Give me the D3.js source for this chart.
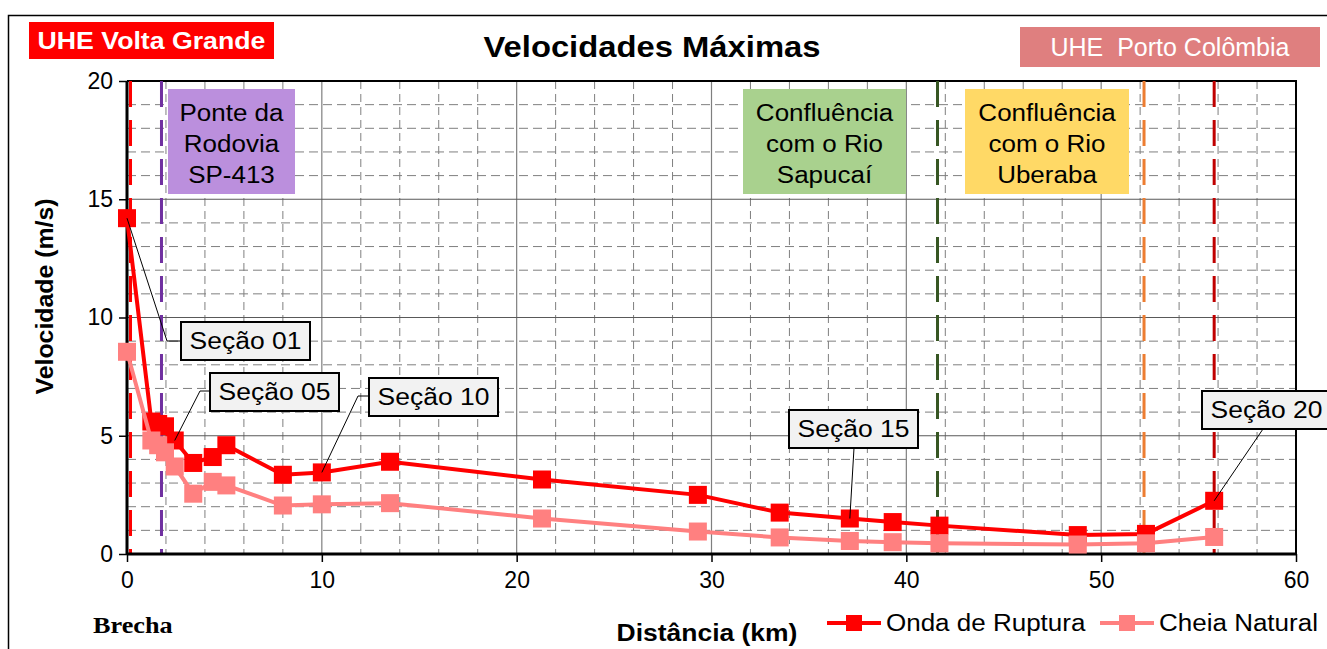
<!DOCTYPE html>
<html>
<head>
<meta charset="utf-8">
<script src="https://cdn.jsdelivr.net/npm/d3@7"></script>
<style>
  body { margin: 0; background: #fff; }
  svg { display: block; font-family: "Liberation Sans", Arial, sans-serif; }
</style>
</head>
<body>
<div id="chart"></div>
<script>
// ----- Data -----
const distancia = [0, 1.25, 1.6, 1.95, 2.45, 3.4, 4.4, 5.1, 8.0, 10.0, 13.5, 21.3, 29.3, 33.5, 37.1, 39.3, 41.7, 48.8, 52.3, 55.8];
const ondaRuptura = [14.2, 5.6, 5.5, 5.4, 4.8, 3.85, 4.1, 4.6, 3.35, 3.45, 3.9, 3.15, 2.5, 1.75, 1.5, 1.35, 1.2, 0.8, 0.85, 2.25];
const cheiaNatural = [8.55, 4.8, 4.6, 4.3, 3.7, 2.55, 3.05, 2.9, 2.05, 2.1, 2.15, 1.5, 0.95, 0.7, 0.55, 0.5, 0.45, 0.4, 0.45, 0.72];

const xTicks = [0, 10, 20, 30, 40, 50, 60];
const yTicks = [0, 5, 10, 15, 20];

// vertical markers (km)
const marcosKm = [0.18, 1.77, 41.6, 52.2, 55.8];
const marcosCor = ["#ff0000", "#7030a0", "#375623", "#ed7d31", "#c00000"];

// section callouts: label + point index
const secoes = [
  { label: "Seção 01", i: 0 },
  { label: "Seção 05", i: 4 },
  { label: "Seção 10", i: 9 },
  { label: "Seção 15", i: 14 },
  { label: "Seção 20", i: 19 }
];

// ----- Config -----
const width = 1327, height = 649;
const plot = { left: 127, right: 1296, top: 81, bottom: 554 };
const wide = 1.13; // source text is a bit wider than Arial

const svg = d3.select("#chart").append("svg")
  .attr("width", width).attr("height", height);

// stretch text horizontally to match the original rendering
function stretch(sel, f = wide) {
  sel.each(function() {
    const len = this.getComputedTextLength();
    d3.select(this).attr("textLength", len * f).attr("lengthAdjust", "spacingAndGlyphs");
  });
  return sel;
}

// outer frame
svg.append("rect")
  .attr("x", 8.5).attr("y", 15.5).attr("width", 1400).attr("height", 800)
  .attr("fill", "#fff").attr("stroke", "#000").attr("stroke-width", 1.5);

const x = d3.scaleLinear().domain([0, 60]).range([plot.left, plot.right]);
const y = d3.scaleLinear().domain([0, 20]).range([plot.bottom, plot.top]);

// ----- Grid -----
const grid = svg.append("g");
grid.selectAll(".vminor").data(d3.range(2, 60, 2).filter(d => d % 10 !== 0))
  .join("line")
  .attr("x1", d => x(d)).attr("x2", d => x(d))
  .attr("y1", plot.top).attr("y2", plot.bottom)
  .attr("stroke", "#7f7f7f").attr("stroke-width", 1).attr("stroke-dasharray", "8,5");
grid.selectAll(".hminor").data(d3.range(1, 20).filter(d => d % 5 !== 0))
  .join("line")
  .attr("y1", d => y(d)).attr("y2", d => y(d))
  .attr("x1", plot.left).attr("x2", plot.right)
  .attr("stroke", "#7f7f7f").attr("stroke-width", 1).attr("stroke-dasharray", "9,5");
grid.selectAll(".vmajor").data(xTicks.slice(1, -1))
  .join("line")
  .attr("x1", d => x(d)).attr("x2", d => x(d))
  .attr("y1", plot.top).attr("y2", plot.bottom)
  .attr("stroke", "#7f7f7f").attr("stroke-width", 1.2);
grid.selectAll(".hmajor").data(yTicks.slice(1, -1))
  .join("line")
  .attr("y1", d => y(d)).attr("y2", d => y(d))
  .attr("x1", plot.left).attr("x2", plot.right)
  .attr("stroke", "#595959").attr("stroke-width", 1.2);

// top / right border
svg.append("path")
  .attr("d", `M${plot.left},${plot.top}H${plot.right}V${plot.bottom}`)
  .attr("fill", "none").attr("stroke", "#000").attr("stroke-width", 2);

// ----- Info boxes -----
const caixas = [
  { linhas: ["Ponte da", "Rodovia", "SP-413"], x0: 168, x1: 295, cor: "#bb8fdd" },
  { linhas: ["Confluência", "com o Rio", "Sapucaí"], x0: 743, x1: 906, cor: "#a9d18e" },
  { linhas: ["Confluência", "com o Rio", "Uberaba"], x0: 965, x1: 1129, cor: "#ffd966" }
];
caixas.forEach(c => {
  const g = svg.append("g");
  g.append("rect").attr("x", c.x0).attr("y", 89).attr("width", c.x1 - c.x0).attr("height", 105)
    .attr("fill", c.cor);
  g.selectAll("text").data(c.linhas).join("text")
    .attr("x", (c.x0 + c.x1) / 2).attr("y", (d, i) => 121 + i * 31)
    .attr("text-anchor", "middle").attr("font-size", 23).attr("fill", "#000")
    .text(d => d)
    .call(stretch);
});

// ----- Vertical markers -----
svg.selectAll(".marco").data(marcosKm).join("line")
  .attr("x1", d => x(d)).attr("x2", d => x(d))
  .attr("y1", plot.top).attr("y2", plot.bottom)
  .attr("stroke", (d, i) => marcosCor[i]).attr("stroke-width", 3)
  .attr("stroke-dasharray", "26,13");

// ----- Axes -----
const yAxis = svg.append("g").attr("transform", `translate(${plot.left},0)`)
  .call(d3.axisLeft(y).tickValues(yTicks).tickSize(8).tickPadding(6));
const xAxis = svg.append("g").attr("transform", `translate(0,${plot.bottom})`)
  .call(d3.axisBottom(x).tickValues(xTicks).tickSize(8).tickPadding(10));
[yAxis, xAxis].forEach(a => {
  a.select(".domain").attr("stroke", "#000").attr("stroke-width", 3);
  a.selectAll(".tick line").attr("stroke", "#000").attr("stroke-width", 1.5);
  a.selectAll(".tick text").attr("font-size", 23).attr("fill", "#000")
    .attr("font-family", "Liberation Sans, Arial, sans-serif");
});
yAxis.select(".domain").attr("d", `M0,${plot.top}V${plot.bottom}`);
xAxis.select(".domain").attr("d", `M${plot.left},0H${plot.right}`);

// ----- Series -----
const series = [
  { nome: "Onda de Ruptura", v: ondaRuptura, cor: "#ff0000" },
  { nome: "Cheia Natural", v: cheiaNatural, cor: "#ff8080" }
];
const line = d3.line().x(d => x(d[0])).y(d => y(d[1]));
const ms = 18;
series.forEach(s => {
  const pts = distancia.map((d, i) => [d, s.v[i]]);
  svg.append("path").datum(pts)
    .attr("d", line).attr("fill", "none")
    .attr("stroke", s.cor).attr("stroke-width", 4);
  svg.append("g").selectAll("rect").data(pts).join("rect")
    .attr("x", d => x(d[0]) - ms / 2).attr("y", d => y(d[1]) - ms / 2)
    .attr("width", ms).attr("height", ms).attr("fill", s.cor);
});

// ----- Section callouts -----
// box position (px) and leader anchor for each callout
const caixaSecao = [
  { bx: 181, by: 322, via: [167, 341], fim: [181, 341] },
  { bx: 210, by: 373, via: [200, 391], fim: [210, 391] },
  { bx: 369, by: 378, via: [358, 396], fim: [369, 396] },
  { bx: 789, by: 410, via: null, fim: [854, 448] },
  { bx: 1202, by: 391, via: null, fim: [1263, 429] }
];
secoes.forEach((s, k) => {
  const c = caixaSecao[k];
  const px = x(distancia[s.i]), py = y(ondaRuptura[s.i]);
  const pts = [[px, py]];
  if (c.via) pts.push(c.via);
  pts.push(c.fim);
  svg.append("path").attr("d", d3.line()(pts))
    .attr("fill", "none").attr("stroke", "#000").attr("stroke-width", 1);
  svg.append("rect").attr("x", c.bx).attr("y", c.by).attr("width", 129).attr("height", 38)
    .attr("fill", "#f2f2f2").attr("stroke", "#000").attr("stroke-width", 2);
  svg.append("text").attr("x", c.bx + 64.5).attr("y", c.by + 27)
    .attr("text-anchor", "middle").attr("font-size", 23).attr("fill", "#000")
    .text(s.label)
    .call(stretch, 1.15);
});

// ----- Titles and labels -----
svg.append("text").attr("x", 652).attr("y", 57).attr("text-anchor", "middle")
  .attr("font-size", 29).attr("font-weight", "bold").text("Velocidades Máximas")
  .call(stretch);

svg.append("text")
  .attr("transform", `translate(53,${(plot.top + plot.bottom) / 2 - 21}) rotate(-90)`)
  .attr("text-anchor", "middle").attr("font-size", 23).attr("font-weight", "bold")
  .text("Velocidade (m/s)")
  .call(stretch, 1.08);

svg.append("text").attr("x", 707).attr("y", 641).attr("text-anchor", "middle")
  .attr("font-size", 23).attr("font-weight", "bold").text("Distância (km)")
  .call(stretch, 1.15);

svg.append("text").attr("x", 93).attr("y", 633)
  .attr("font-family", "Liberation Serif, Times New Roman, serif")
  .attr("font-size", 23).attr("font-weight", "bold").text("Brecha")
  .call(stretch, 1.14);

// UHE boxes
svg.append("rect").attr("x", 29).attr("y", 22).attr("width", 245).attr("height", 37).attr("fill", "#ff0000");
svg.append("text").attr("x", 151.5).attr("y", 49).attr("text-anchor", "middle")
  .attr("font-size", 23).attr("font-weight", "bold").attr("fill", "#fff").text("UHE Volta Grande")
  .call(stretch, 1.16);

svg.append("rect").attr("x", 1020).attr("y", 27).attr("width", 300).attr("height", 40).attr("fill", "#df7f7f");
svg.append("text").attr("x", 1170).attr("y", 56).attr("text-anchor", "middle")
  .attr("font-family", "Liberation Sans Narrow, Arial Narrow, Liberation Sans, sans-serif")
  .style("white-space", "pre")
  .attr("font-size", 25).attr("fill", "#fff").text("UHE  Porto Colômbia");

// ----- Legend -----
const legX = [827, 1100];
series.forEach((s, i) => {
  const g = svg.append("g").attr("transform", `translate(${legX[i]},623)`);
  g.append("line").attr("x1", 0).attr("x2", 54).attr("stroke", s.cor).attr("stroke-width", 4);
  g.append("rect").attr("x", 27 - 8).attr("y", -8).attr("width", 16).attr("height", 16).attr("fill", s.cor);
  g.append("text").attr("x", 59).attr("y", 8).attr("font-size", 23).text(s.nome)
    .call(stretch, 1.13);
});
</script>
</body>
</html>
